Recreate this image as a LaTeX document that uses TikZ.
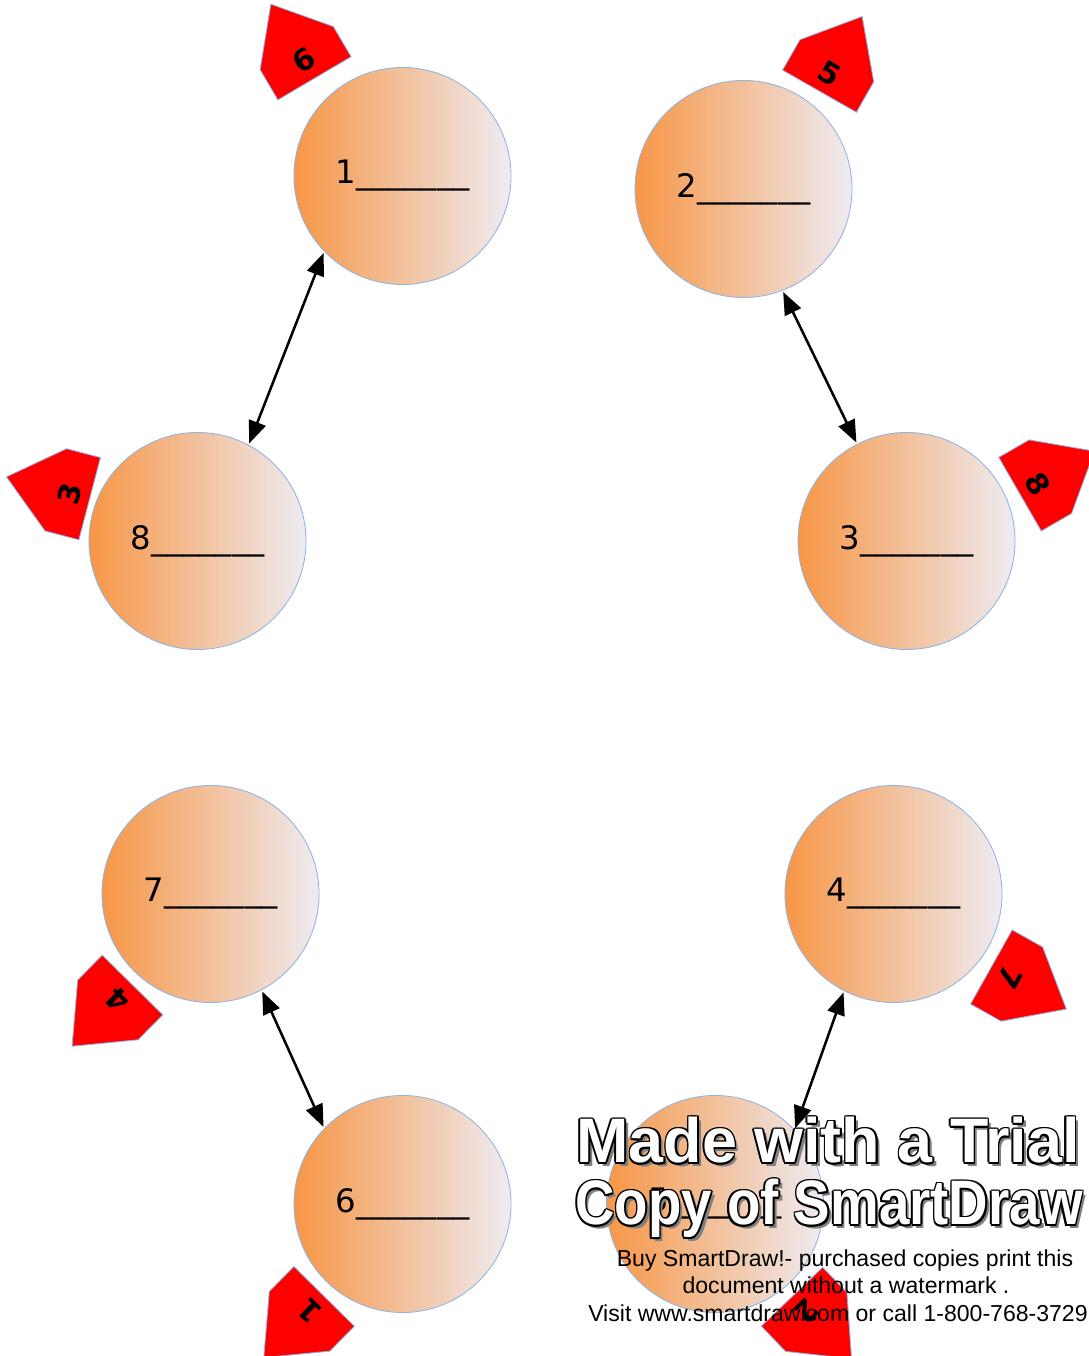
\documentclass[tikz,border=0pt]{standalone}
\usepackage{fontspec}
\newfontfamily\dejavu{DejaVu Sans}
\newfontfamily\arialfont{Liberation Sans}
\usetikzlibrary{arrows.meta,calc}

\definecolor{sdorange}{RGB}{247,150,70}
\definecolor{sdpale}{RGB}{238,236,242}
\definecolor{sdblue}{RGB}{142,180,227}

\begin{document}
\begin{tikzpicture}[x=0.025cm,y=0.025cm,>={Triangle[length=16pt,width=12.5pt]},
    circ/.style={circle,draw=sdblue,line width=0.6pt,left color=sdorange,right color=sdpale,
      minimum size=5.425cm,inner sep=0pt,font=\dejavu\fontsize{23}{26}\selectfont},
    tag/.style={fill=red,draw=sdblue,line width=0.6pt},
    tag text/.style={font=\dejavu\bfseries\fontsize{21}{23}\selectfont,inner sep=0pt},
    link/.style={<->,line width=1.8pt,shorten >=1pt,shorten <=1pt},
    wm big/.style={font=\arialfont\bfseries\fontsize{44.7}{50}\selectfont,anchor=base,inner sep=0pt},
    wm small/.style={font=\arialfont\fontsize{16.4}{18}\selectfont,anchor=base,inner sep=0pt}]
  \useasboundingbox (0,0) rectangle (1089,1356);
  \fill[white] (0,0) rectangle (1089,1356);

  % the eight circles
  \node[circ] (1) at (402.5,1180) {1\_\_\_\_\_\_\_};
  \node[circ] (2) at (743.5,1167) {2\_\_\_\_\_\_\_};
  \node[circ] (8) at (197.5,815) {8\_\_\_\_\_\_\_};
  \node[circ] (3) at (906.5,815) {3\_\_\_\_\_\_\_};
  \node[circ] (7) at (210.5,462) {7\_\_\_\_\_\_\_};
  \node[circ] (4) at (893.5,462) {4\_\_\_\_\_\_\_};
  \node[circ] (6) at (402.5,152) {6\_\_\_\_\_\_\_};
  \node[circ] (5) at (715,152) {5\_\_\_\_\_\_\_};

  % red tags
  \foreach \num/\x/\y/\r in {6/314.5/1277.7/30.5, 5/819.5/1264.8/-29.7,
      3/89.65/857.3/75.3, 8/1020/861.8/-60, 4/132.5/371/135.4,
      7/991.35/389/-119.3, 1/324.15/59.65/135.4, 2/792/59.3/-136.2}
  {
    \begin{scope}[shift={(\x,\y)},rotate=\r]
      \filldraw[tag] (-42.5,0) -- (42.5,0) -- (42.5,35) -- (0,86) -- (-42.5,35) -- cycle;
      \node[tag text,rotate=\r] (tag\num) at (0,21) {\num};
    \end{scope}
  }

  \path[link]
    (1.224) edge (8.62)
    (2.291) edge (3.117)
    (7.298) edge (6.136)
    (4.243) edge (5.43)
  ;

  % watermark
  \node[wm big,text=gray,xshift=2.5pt,yshift=-2.5pt] (wmAs) at (828,193) {Made with a Trial};
  \node[wm big,text=gray,xshift=2.5pt,yshift=-2.5pt] (wmBs) at (829,131) {\scalebox{0.87}[1]{Copy of SmartDraw}};
  \foreach \dx/\dy [count=\k] in {1.2/0,-1.2/0,0/1.2,0/-1.2,0.85/0.85,-0.85/0.85,0.85/-0.85,-0.85/-0.85}
  {
    \node[wm big,text=black,xshift=\dx pt,yshift=\dy pt] (wmA\k) at (828,193) {Made with a Trial};
    \node[wm big,text=black,xshift=\dx pt,yshift=\dy pt] (wmB\k) at (829,131) {\scalebox{0.87}[1]{Copy of SmartDraw}};
  }
  \node[wm big,text=white] (wmA) at (828,193) {Made with a Trial};
  \node[wm big,text=white] (wmB) at (829,131) {\scalebox{0.87}[1]{Copy of SmartDraw}};

  \node[wm small] (buy) at (845,89.3) {Buy SmartDraw!- purchased copies print this};
  \node[wm small] (doc) at (846,62) {document without a watermark .};
  \node[wm small] (visit) at (838,34.3) {Visit www.smartdraw.com or call 1-800-768-3729};
\end{tikzpicture}
\end{document}
